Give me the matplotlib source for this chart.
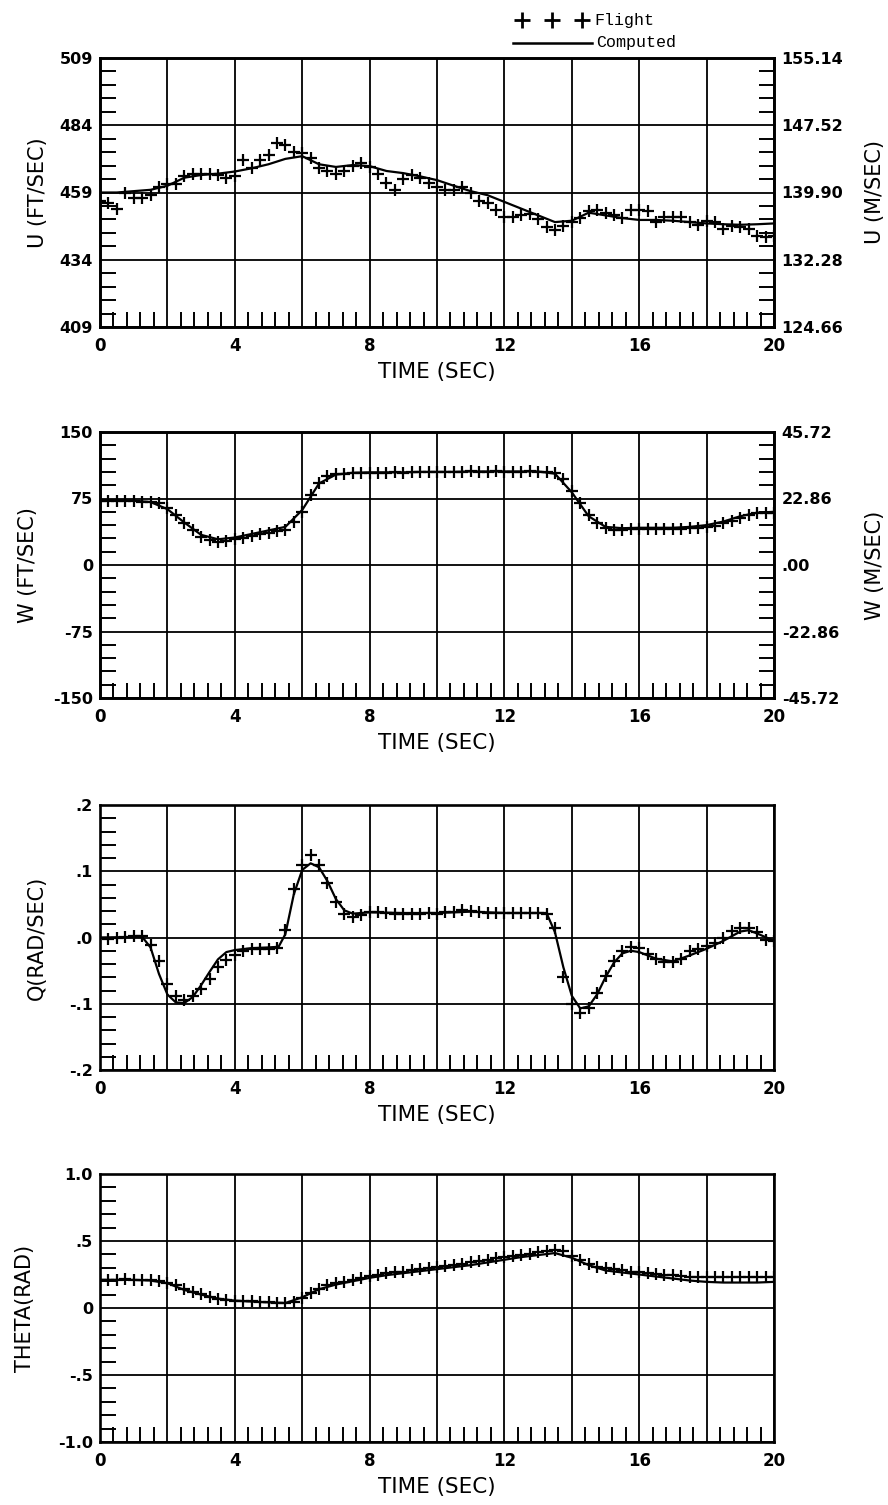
import numpy as np
import matplotlib
matplotlib.use("Agg")
import matplotlib.pyplot as plt
from matplotlib.ticker import AutoMinorLocator, FixedLocator
from matplotlib.lines import Line2D

# sample times
t_flight = np.arange(0, 20.001, 0.25)
t_comp = np.arange(0, 20.001, 0.5)

u_flight = [456, 455, 453, 459, 457, 457, 458, 461, 462, 462,
            465, 466, 466, 466, 465.5, 464.5, 465, 471, 468, 471,
            473, 477.5, 476.5, 474, 473.5, 472, 468, 467, 466, 467,
            469, 470, 468.5, 466, 462.5, 460, 464, 465.5, 464.5, 462.5,
            461, 460, 460, 461, 459, 456, 455, 452.5, 450, 450,
            450.5, 451, 449, 446, 445, 446.5, 448, 449.5, 452, 452.5,
            451.5, 450.5, 449.5, 452.5, 452.5, 452, 448, 450, 450, 450,
            448, 447, 448.5, 448, 445.5, 446.5, 446, 445.5, 443, 442.5,
            443]
u_comp = [459, 459, 459.5, 460, 461.5, 464.5, 465.5, 466, 466.8, 468,
          469.5, 471.5, 472.5, 469.5, 468.5, 469.2, 468.8, 467, 466.2, 465,
          463.6, 461.5, 459.5, 458, 455.5, 453, 450.5, 448, 448.5, 451.5,
          450.5, 449.5, 448.8, 448.8, 448.5, 448, 447.5, 447.2, 447, 447.2,
          447.5]

w_flight = [72, 72, 72.5, 72, 72, 71.5, 71, 70,
            64, 56, 47, 39, 32, 28, 26, 27,
            29, 31, 33, 35, 36.5, 38, 40, 48,
            60, 79, 93, 100, 102.5, 103,
            103.5, 103.5, 104, 104, 104, 104.5, 104, 104.5, 104.5, 105, 104.5, 105,
            105, 105, 105.5, 105, 105, 105.5, 105, 105, 105, 105.5, 105, 105,
            104, 97, 84, 70, 56, 47, 42, 40, 40,
            40.5, 41, 41, 40.5, 41, 40.5, 41, 41.5, 42,
            43, 44, 47, 50, 53, 56, 58.5, 59, 59]
w_comp = [73, 73, 72.5, 71, 63, 48, 34, 29, 31, 35,
          39, 43, 62, 92, 102, 104, 104.5, 104.5, 104.5, 105,
          105, 105, 105.5, 105.5, 105.5, 105.5, 105.5, 103, 82, 55,
          43, 41.5, 42, 42, 42, 43, 45, 49, 55, 59,
          60]

q_flight = [0.000, -0.002, 0.000, 0.001, 0.003, 0.002, -0.012, -0.036, -0.070, -0.089,
            -0.094, -0.088, -0.078, -0.062, -0.045, -0.034, -0.026, -0.021, -0.018, -0.017,
            -0.018, -0.016, 0.011, 0.073, 0.110, 0.125, 0.110, 0.082, 0.054, 0.036,
            0.031, 0.034, 0.039, 0.038, 0.037, 0.036, 0.036, 0.035, 0.036, 0.037,
            0.036, 0.038, 0.039, 0.042, 0.040, 0.038, 0.037, 0.037, 0.037, 0.037,
            0.037, 0.037, 0.037, 0.036, 0.015, -0.059, -0.100, -0.114, -0.106, -0.084,
            -0.058, -0.036, -0.021, -0.014, -0.016, -0.025, -0.033, -0.037, -0.037, -0.032,
            -0.021, -0.017, -0.013, -0.008, 0.000, 0.010, 0.015, 0.015, 0.008, -0.004,
            -0.006]
q_comp_t = [0, 1.25, 1.5, 1.75, 2.0, 2.25, 2.5, 2.75, 3.0, 3.25, 3.5, 3.75, 4.0, 4.5,
            5.0, 5.3, 5.5, 5.75, 6.0, 6.25, 6.5, 6.75, 7.0, 7.25, 7.5, 8.0, 9, 10, 11,
            12, 13.25, 13.5, 13.75, 14.0, 14.25, 14.5, 14.75, 15.0, 15.25, 15.5, 15.75,
            16.0, 16.5, 17.0, 17.5, 18.0, 18.5, 19.0, 19.25, 19.5, 20]
q_comp = [0, 0.001, -0.015, -0.055, -0.086, -0.098, -0.099, -0.09, -0.072, -0.052,
          -0.033, -0.022, -0.019, -0.016, -0.015, -0.014, 0.005, 0.065, 0.102, 0.112,
          0.106, 0.085, 0.058, 0.041, 0.036, 0.038, 0.037, 0.037, 0.039, 0.037, 0.037,
          0.008, -0.045, -0.088, -0.107, -0.104, -0.086, -0.06, -0.038, -0.024, -0.02,
          -0.022, -0.032, -0.036, -0.027, -0.017, -0.005, 0.009, 0.011, 0.006, -0.005]

th_flight = [0.21, 0.21, 0.21, 0.215, 0.21, 0.21, 0.21, 0.205, 0.19, 0.17,
             0.14, 0.12, 0.105, 0.085, 0.07, 0.06, 0.055, 0.052, 0.05, 0.048,
             0.045, 0.04, 0.037, 0.045, 0.075, 0.11, 0.145, 0.17, 0.185, 0.195,
             0.21, 0.225, 0.24, 0.25, 0.258, 0.265, 0.272, 0.28, 0.29, 0.297,
             0.305, 0.312, 0.32, 0.33, 0.34, 0.35, 0.36, 0.37, 0.38, 0.39,
             0.398, 0.405, 0.415, 0.425, 0.432, 0.425, 0.39, 0.355, 0.33, 0.305,
             0.295, 0.29, 0.28, 0.272, 0.265, 0.26, 0.255, 0.25, 0.245, 0.24,
             0.235, 0.232, 0.23, 0.228, 0.228, 0.229, 0.23, 0.23, 0.23, 0.231,
             0.23]
th_comp = [0.21, 0.21, 0.21, 0.205, 0.185, 0.135, 0.1, 0.07, 0.055, 0.048,
           0.042, 0.037, 0.08, 0.14, 0.175, 0.2, 0.225, 0.245, 0.26, 0.275,
           0.29, 0.305, 0.32, 0.34, 0.36, 0.38, 0.395, 0.41, 0.375, 0.32,
           0.28, 0.265, 0.25, 0.235, 0.22, 0.205, 0.195, 0.19, 0.19, 0.19,
           0.195]

x_ticks = [0, 2, 4, 6, 8, 10, 12, 14, 16, 18, 20]
x_labels = ["0", "", "4", "", "8", "", "12", "", "16", "", "20"]

u_ticks = [409, 434, 459, 484, 509]
u_labels = ["409", "434", "459", "484", "509"]
u_si_ticks = [124.66, 132.28, 139.90, 147.52, 155.14]
u_si_labels = ["124.66", "132.28", "139.90", "147.52", "155.14"]
w_ticks = [-150, -75, 0, 75, 150]
w_labels = ["-150", "-75", "0", "75", "150"]
w_si_ticks = [-45.72, -22.86, 0, 22.86, 45.72]
w_si_labels = ["-45.72", "-22.86", ".00", "22.86", "45.72"]
q_ticks = [-0.2, -0.1, 0, 0.1, 0.2]
q_labels = ["-.2", "-.1", ".0", ".1", ".2"]
th_ticks = [-1.0, -0.5, 0, 0.5, 1.0]
th_labels = ["-1.0", "-.5", "0", ".5", "1.0"]

W, H = 888, 1505
fig = plt.figure(figsize=(W / 100, H / 100), dpi=100)

panels = [
    dict(top=58, bot=327, tf=t_flight, yf=u_flight, tc=t_comp, yc=u_comp,
         yt=u_ticks, yl=u_labels, lab="U (FT/SEC)", labx=38,
         rt=u_si_ticks, rl=u_si_labels, rlab="U (M/SEC)"),
    dict(top=432, bot=698, tf=t_flight, yf=w_flight, tc=t_comp, yc=w_comp,
         yt=w_ticks, yl=w_labels, lab="W (FT/SEC)", labx=28,
         rt=w_si_ticks, rl=w_si_labels, rlab="W (M/SEC)"),
    dict(top=805, bot=1070, tf=t_flight, yf=q_flight, tc=q_comp_t, yc=q_comp,
         yt=q_ticks, yl=q_labels, lab="Q(RAD/SEC)", labx=37, rt=None),
    dict(top=1174, bot=1442, tf=t_flight, yf=th_flight, tc=t_comp, yc=th_comp,
         yt=th_ticks, yl=th_labels, lab="THETA(RAD)", labx=25, rt=None),
]

left_px, right_px = 100, 774
lw_spine = 1.9
lw_grid = 1.3

for p in panels:
    ax = fig.add_axes([left_px / W, 1 - p["bot"] / H,
                       (right_px - left_px) / W, (p["bot"] - p["top"]) / H])
    ax.plot(p["tc"], p["yc"], color="black", lw=1.6, zorder=3)
    ax.plot(p["tf"], p["yf"], ls="none", marker="+", ms=8, mew=1.6,
            color="black", zorder=4)
    ax.set_xlim(0, 20)
    ax.set_ylim(p["yt"][0], p["yt"][-1])
    ax.set_xticks(x_ticks)
    ax.set_xticklabels(x_labels)
    ax.set_yticks(p["yt"])
    ax.set_yticklabels(p["yl"])
    ax.xaxis.set_minor_locator(AutoMinorLocator(5))
    ax.yaxis.set_minor_locator(AutoMinorLocator(5))
    ax.grid(True, which="major", color="black", lw=lw_grid)
    ax.tick_params(which="major", length=0, width=0)
    ax.tick_params(axis="x", which="major", pad=7, labelsize=12)
    ax.tick_params(axis="y", which="major", pad=5, labelsize=11.5)
    ax.tick_params(axis="x", which="minor", direction="in", length=10.5, width=1.4)
    ax.tick_params(axis="y", which="minor", direction="in", length=11.5, width=1.4)
    for lbl in ax.get_xticklabels() + ax.get_yticklabels():
        lbl.set_fontweight("bold")
    for s in ax.spines.values():
        s.set_linewidth(lw_spine)
    ax.set_axisbelow(True)

    cy = 1 - (p["top"] + p["bot"]) / 2 / H
    fig.text(p["labx"] / W, cy, p["lab"], rotation=90, ha="center",
             va="center", fontsize=15)
    fig.text((left_px + right_px) / 2 / W, 1 - (p["bot"] + 45) / H,
             "TIME (SEC)", ha="center", va="center", fontsize=15.5)

    if p["rt"] is not None:
        ax2 = ax.twinx()
        ax2.set_ylim(p["rt"][0], p["rt"][-1])
        ax2.set_yticks(p["rt"])
        ax2.set_yticklabels(p["rl"])
        ax2.yaxis.set_minor_locator(AutoMinorLocator(5))
        ax2.tick_params(which="major", length=0, width=0, pad=5.5, labelsize=11.5)
        ax2.tick_params(which="minor", direction="in", length=10.5, width=1.4)
        for lbl in ax2.get_yticklabels():
            lbl.set_fontweight("bold")
        for s in ax2.spines.values():
            s.set_linewidth(lw_spine)
        fig.text(875 / W, cy, p["rlab"], rotation=90, ha="center",
                 va="center", fontsize=15)

# legend at top right
fig.add_artist(Line2D([522 / W, 552 / W, 582 / W], [1 - 20 / H] * 3,
                      transform=fig.transFigure, ls="none", marker="+",
                      ms=12, mew=2, color="black"))
fig.text(594 / W, 1 - 20 / H, "Flight", ha="left", va="center",
         fontsize=12, family="Liberation Mono")
fig.add_artist(Line2D([513 / W, 592 / W], [1 - 43 / H] * 2,
                      transform=fig.transFigure, lw=1.8, color="black"))
fig.text(596 / W, 1 - 43 / H, "Computed", ha="left", va="center",
         fontsize=12, family="Liberation Mono")

fig.savefig("out.png", dpi=100)
